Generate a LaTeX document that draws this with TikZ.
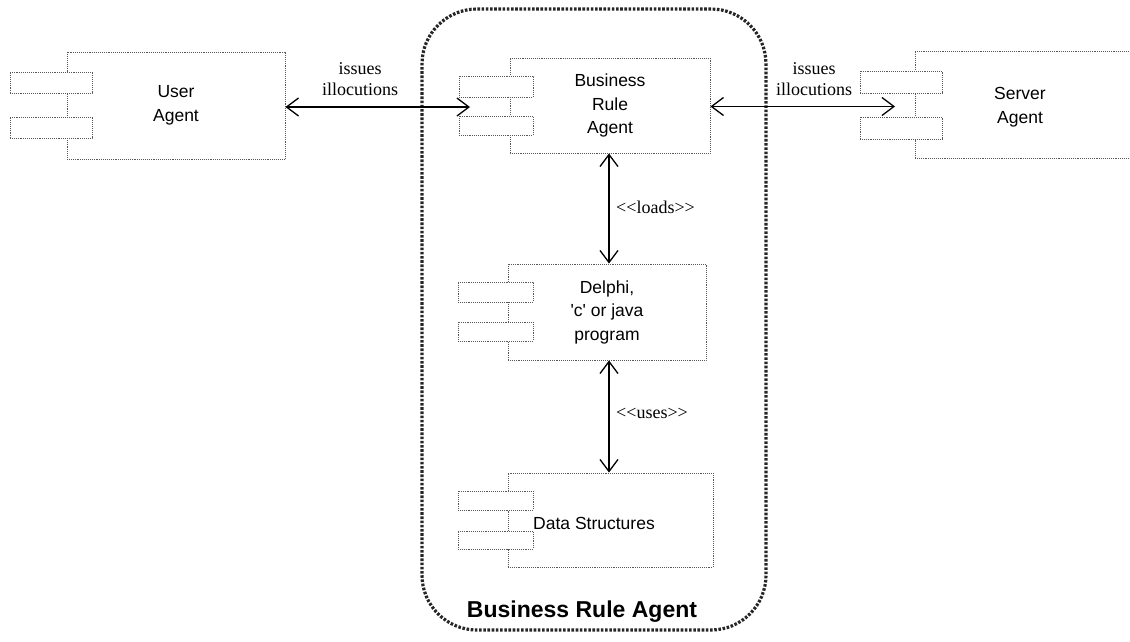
\documentclass[tikz,border=0pt]{standalone}
\usepackage{fontspec}
\setmainfont{Liberation Serif}
\setsansfont{Liberation Sans}
\usetikzlibrary{arrows.meta}
\begin{document}
\begin{tikzpicture}[x=1pt,y=-1pt,
  boxline/.style={draw=black!65, line width=0.9pt, densely dotted},
  mainbox/.style={boxline, fill=white, inner sep=0pt},
  portbox/.style={boxline, fill=white, inner sep=0pt, minimum width=75pt, minimum height=20pt},
  boxtext/.style={font=\sffamily\fontsize{17.5}{23.5}\selectfont, align=center, inner sep=0pt},
  lbl/.style={font=\rmfamily\fontsize{18}{21}\selectfont, align=center, inner sep=0pt},
  conn/.style={line width=1.4pt, {Straight Barb[length=12pt,width=18pt,line width=1.3pt]}-{Straight Barb[length=12pt,width=18pt,line width=1.3pt]}},
  boundary/.style={draw=black!85, line width=3.2pt, dash pattern=on 2.6pt off 1.6pt, rounded corners=55pt, inner sep=0pt}
]
\useasboundingbox (0,0) rectangle (1130,641);
\clip (0,0) rectangle (1130,641);

% container boundary
\node[boundary, minimum width=344pt, minimum height=621pt] (bnd) at (594,319.5) {};
\node[font=\sffamily\bfseries\fontsize{23}{27}\selectfont, inner sep=0pt] (bndlbl) at (582,612) {Business Rule Agent};

% User Agent
\node[mainbox, minimum width=218pt, minimum height=107pt, boxtext] (user) at (176,105.5) {User\\Agent};
\node[portbox, minimum width=82pt, minimum height=21pt] (user1) at (51,82.5) {};
\node[portbox, minimum width=82pt, minimum height=21pt] (user2) at (51,127.5) {};

% Business Rule Agent
\node[mainbox, minimum width=200pt, minimum height=95pt, boxtext] (bra) at (610,105.5) {Business\\Rule\\Agent};
\node[portbox, minimum width=74pt, minimum height=21pt] (bra1) at (496,86.5) {};
\node[portbox, minimum width=74pt, minimum height=19pt] (bra2) at (496,125.5) {};

% Delphi program
\node[mainbox, minimum width=198pt, minimum height=96pt, boxtext] (prog) at (607,312) {Delphi,\\\textquotesingle c\textquotesingle\ or java\\program};
\node[portbox, minimum width=75pt, minimum height=20pt] (prog1) at (495.5,292) {};
\node[portbox, minimum width=75pt, minimum height=19pt] (prog2) at (495.5,331.5) {};

% Data Structures
\node[mainbox, minimum width=205pt, minimum height=94pt] (ds) at (610.5,520) {};
\node[portbox, minimum width=75pt, minimum height=19pt] (ds1) at (495.5,500.5) {};
\node[portbox, minimum width=75pt, minimum height=18pt] (ds2) at (495.5,540) {};
\node[boxtext, anchor=west] (dstxt) at (533,523) {Data Structures};

% Server Agent
\node[mainbox, minimum width=230pt, minimum height=107pt] (server) at (1030,104.5) {};
\node[portbox, minimum width=82pt, minimum height=22pt] (server1) at (901,82) {};
\node[portbox, minimum width=82pt, minimum height=22pt] (server2) at (901,128) {};
\node[boxtext] (servertxt) at (1020,107) {Server\\Agent};

% ports where arrows end
\coordinate (braport) at (470,107);
\coordinate (serverport) at (895,106.5);

% connectors
\draw[conn] (user.east |- braport) -- (braport);
\draw[conn] (bra.east |- serverport) -- (serverport);
\draw[conn] (bra.south -| 609,0) -- (prog.north -| 609,0);
\draw[conn] (prog.south -| 609,0) -- (ds.north -| 609,0);

% labels
\node[lbl] (l1) at (360,79) {issues\\illocutions};
\node[lbl] (l2) at (814,79) {issues\\illocutions};
\node[lbl, anchor=west] (l3) at (616,207) {<\kern0pt<loads>\kern0pt>};
\node[lbl, anchor=west] (l4) at (616,413) {<\kern0pt<uses>\kern0pt>};
\end{tikzpicture}
\end{document}
